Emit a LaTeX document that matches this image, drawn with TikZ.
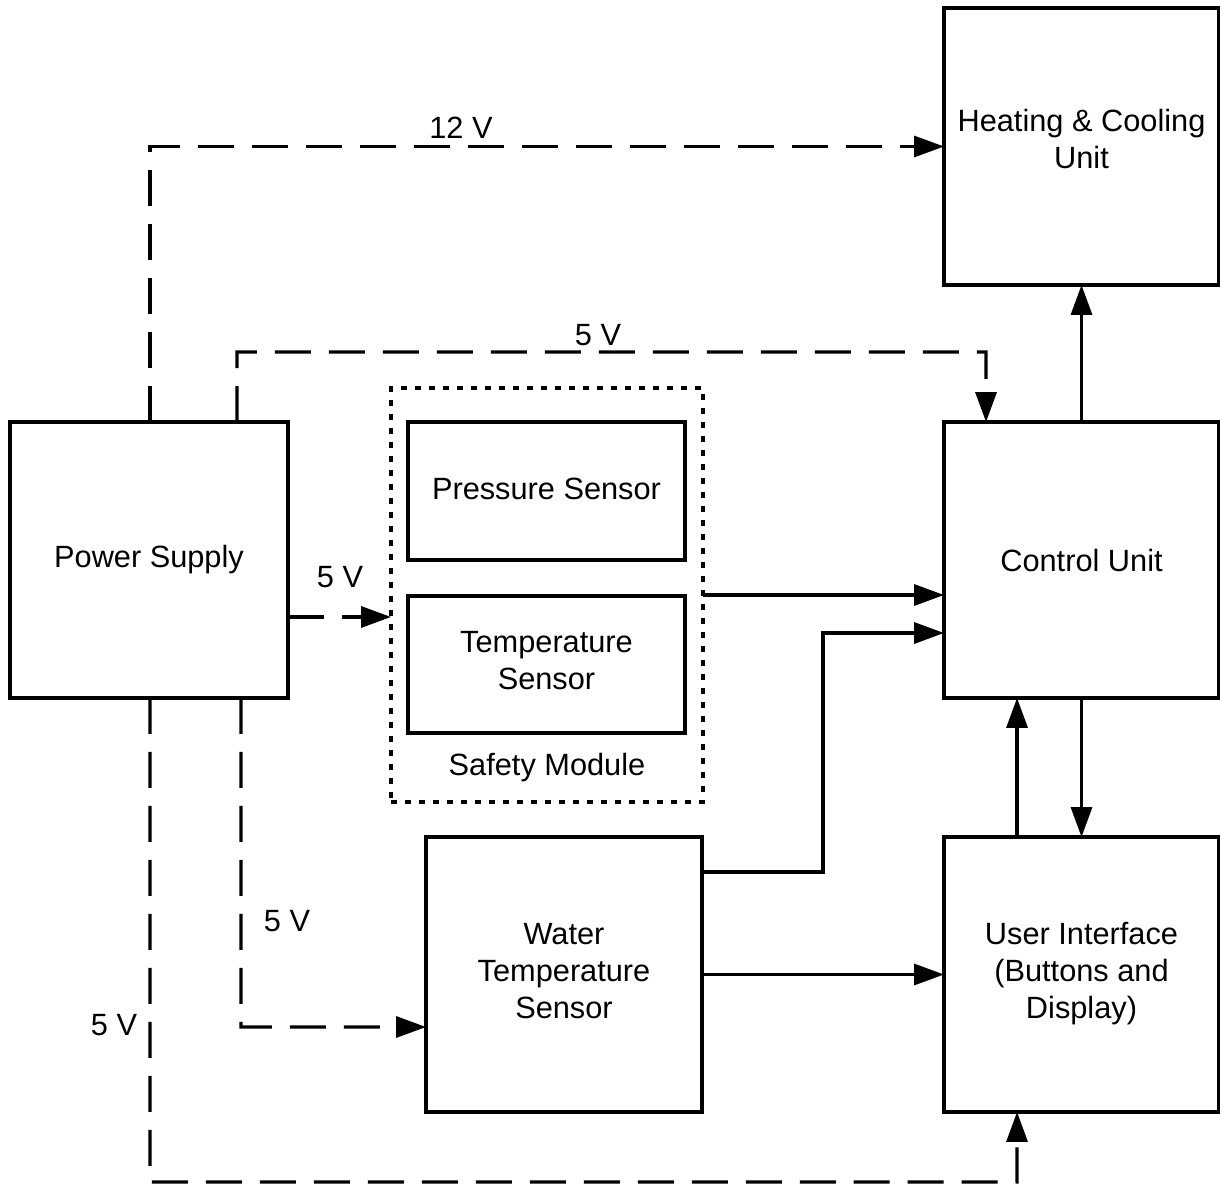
\documentclass[tikz,border=0pt]{standalone}
\usepackage{fontspec}
\setmainfont{Liberation Sans}
\usetikzlibrary{arrows.meta,calc}
\begin{document}
\begin{tikzpicture}[x=0.02cm,y=-0.02cm,
  every node/.style={font=\fontsize{17.5}{21}\selectfont},
  blk/.style={draw,line width=1.9pt,inner sep=0pt,outer sep=0pt,align=center},
  lbl/.style={inner sep=0pt},
  tip/.style={-{Triangle[length=0.6cm,width=0.42cm]}},
  sig/.style={tip,line width=1.9pt},
  pwr/.style={tip,line width=1.9pt,dash pattern=on 0.72cm off 0.36cm},
  dotbox/.style={draw,line width=1.9pt,dash pattern=on 0.12cm off 0.16cm,inner sep=0pt,outer sep=0pt}]
\useasboundingbox (0,0) rectangle (1220,1184);
\fill[white] (0,0) rectangle (1220,1184);
% blocks
\node[blk,minimum width=5.5cm,minimum height=5.54cm] (heat) at (1081.5,146.5) {Heating \& Cooling\\Unit\rule[-0.3cm]{0pt}{0pt}};
\node[blk,minimum width=5.5cm,minimum height=5.52cm] (cu) at (1081.5,560) {Control Unit};
\node[blk,minimum width=5.5cm,minimum height=5.5cm] (ui) at (1081.5,974.5) {User Interface\\(Buttons and\\Display)\rule[-0.15cm]{0pt}{0pt}};
\node[blk,minimum width=5.56cm,minimum height=5.52cm] (ps) at (149,560) {Power Supply};
\node[dotbox,minimum width=6.24cm,minimum height=8.28cm] (sm) at (547,595) {};
\node[blk,minimum width=5.54cm,minimum height=2.76cm] (press) at (546.5,491) {Pressure Sensor\rule[-0.1cm]{0pt}{0pt}};
\node[blk,minimum width=5.54cm,minimum height=2.74cm] (temp) at (546.5,664.5) {Temperature\\Sensor\rule[-0.15cm]{0pt}{0pt}};
\node[lbl] (smlbl) at (547,768) {Safety Module};
\node[blk,minimum width=5.52cm,minimum height=5.5cm] (water) at (564,974.5) {Water\\Temperature\\Sensor\rule[-0.15cm]{0pt}{0pt}};
% coordinates for bends
\coordinate (p12) at ($(ps.north west)+(140,0)$);
\coordinate (p5a) at ($(ps.north west)+(227,0)$);
\coordinate (c5a) at (986,352);
\coordinate (cuin) at ($(cu.north west)+(42,0)$);
\coordinate (psr) at ($(ps.south east)+(0,-81)$);
\coordinate (p5w) at ($(ps.south west)+(231,0)$);
\coordinate (c5w) at (241,1027);
\coordinate (p5u) at ($(ps.south west)+(140,0)$);
\coordinate (c5u) at (150,1182);
\coordinate (uiin) at ($(ui.south west)+(73,0)$);
\coordinate (wo) at ($(water.north east)+(0,35)$);
\coordinate (wb) at (823,633);
\coordinate (uio) at ($(ui.north west)+(73,0)$);
\coordinate (cuin2) at ($(cu.south west)+(73,0)$);
% power lines
\draw[pwr] (p12) |- (heat.west);
\node[lbl] (l12) at (461,128) {12 V};
\draw[pwr] (p5a) |- (c5a) -- (cuin);
\node[lbl] (l5a) at (598,335) {5 V};
\draw[pwr] (psr) -- (psr -| sm.west);
\node[lbl] (l5b) at (340,577) {5 V};
\draw[pwr] (p5w) -- (c5w) -- (c5w -| water.west);
\node[lbl] (l5c) at (287,921) {5 V};
\draw[pwr] (p5u) -- (c5u) -| (uiin);
\node[lbl] (l5d) at (114,1025) {5 V};
% signal lines
\draw[sig] (sm.east) -- (sm.east -| cu.west);
\draw[sig] (wo) -| (wb) -- (wb -| cu.west);
\draw[sig] (water.east) -- (ui.west);
\draw[sig] (cu.north) -- (heat.south);
\draw[sig] (cu.south) -- (ui.north);
\draw[sig] (uio) -- (cuin2);
\end{tikzpicture}
\end{document}
